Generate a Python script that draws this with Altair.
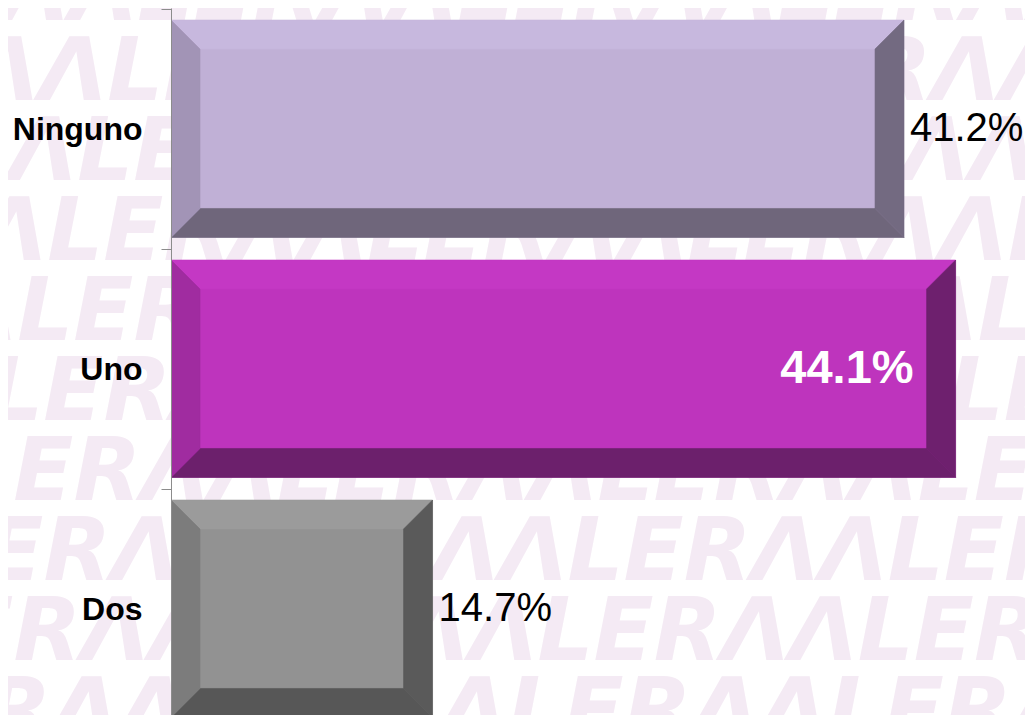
import json
import altair as alt
import pandas as pd

# ---------------- data ----------------
categories = ["Ninguno", "Uno", "Dos"]
values = [41.2, 44.1, 14.7]
value_labels = ["41.2%", "44.1%", "14.7%"]

# bevel palette per bar (face, top, left, right, bottom)
face_colors = ["#C0B0D6", "#BE34BD", "#929292"]
top_colors = ["#C7B8DE", "#C438C4", "#9B9B9B"]
left_colors = ["#A294B6", "#A02CA0", "#7C7C7C"]
right_colors = ["#736A81", "#6E206E", "#5A5A5A"]
bottom_colors = ["#6F667B", "#6C206C", "#575757"]

# ---------------- geometry / layout ----------------
X_MAX = 48
W = 854
H = 707
BAND_PX = 240
PX_X = W / X_MAX
BEVEL = 29
bx = BEVEL / PX_X
by = BEVEL / BAND_PX
Y0 = -1 / BAND_PX
Y1 = Y0 + H / BAND_PX
TOP_PAD = 0.046
BOT_PAD = 0.048

x_scale = alt.Scale(domain=[0, X_MAX], nice=False, zero=False)
y_scale = alt.Scale(domain=[Y0, Y1], reverse=True, nice=False, zero=False)

label_expr = json.dumps(categories) + "[datum.value]"
y_axis = alt.Axis(
    values=list(range(len(categories))),
    labelExpr=label_expr,
    labelOffset=BAND_PX / 2,
    labelFont="Liberation Sans",
    labelFontWeight="bold",
    labelFontSize=32,
    labelColor="#000000",
    labelPadding=19,
    labelFlush=False,
    labelOverlap=False,
    tickSize=10,
    tickColor="#8C8C8C",
    domainColor="#8C8C8C",
    grid=False,
    title=None,
    zindex=1,
)


def X(f):
    return alt.X(f, type="quantitative", scale=x_scale, axis=None, stack=None)


def Y(f):
    return alt.Y(f, type="quantitative", scale=y_scale, axis=y_axis, stack=None)


rects, harea, varea, texts = [], [], [], []
for i, (cat, v) in enumerate(zip(categories, values)):
    yt = i + TOP_PAD
    yb = i + 1 - BOT_PAD
    rects.append(dict(cat=cat, x=0, x2=v, y=yt, y2=yb, color=face_colors[i], layer=0))
    rects.append(dict(cat=cat, x=bx, x2=v - bx, y=yt + by, y2=yb - by, color=face_colors[i], layer=1))
    harea += [
        dict(pid=f"{cat}-t", y=yt, x=0, x2=v, color=top_colors[i]),
        dict(pid=f"{cat}-t", y=yt + by, x=bx, x2=v - bx, color=top_colors[i]),
        dict(pid=f"{cat}-b", y=yb - by, x=bx, x2=v - bx, color=bottom_colors[i]),
        dict(pid=f"{cat}-b", y=yb, x=0, x2=v, color=bottom_colors[i]),
    ]
    varea += [
        dict(pid=f"{cat}-l", x=0, y=yt, y2=yb, color=left_colors[i]),
        dict(pid=f"{cat}-l", x=bx, y=yt + by, y2=yb - by, color=left_colors[i]),
        dict(pid=f"{cat}-r", x=v - bx, y=yt + by, y2=yb - by, color=right_colors[i]),
        dict(pid=f"{cat}-r", x=v, y=yt, y2=yb, color=right_colors[i]),
    ]
    texts.append(dict(cat=cat, x=v, y=i + 0.5, label=value_labels[i], inside=(v == max(values))))

rect_df = pd.DataFrame(rects)
harea_df = pd.DataFrame(harea)
varea_df = pd.DataFrame(varea)
text_df = pd.DataFrame(texts)

# ---------------- watermark rows ----------------
WM_PERIOD = 320
wm_rows = []
for k in range(-1, 9):
    base_page_y = 100 + 80 * k
    l_pos = 887 + (6 - k) * 30
    start = l_pos - 136
    while start > 0:
        start -= WM_PERIOD
    wm_rows.append(dict(
        x=(start - 171) / PX_X,
        y=(base_page_y - 8) / BAND_PX + Y0,
        t="ΛΛLER" * 6,
    ))
wm_df = pd.DataFrame(wm_rows)

watermark = alt.Chart(wm_df).mark_text(
    align="left", baseline="alphabetic", font="DejaVu Sans", fontWeight="bold",
    fontStyle="italic", fontSize=88, color="#F4EAF4",
).encode(x=X("x"), y=Y("y"), text="t:N")

underlay = alt.Chart(rect_df).transform_filter("datum.layer == 0").mark_rect(clip=True).encode(
    x=X("x"), x2="x2", y=Y("y"), y2="y2", fill=alt.Fill("color:N", scale=None)
)
face = alt.Chart(rect_df).transform_filter("datum.layer == 1").mark_rect(clip=True).encode(
    x=X("x"), x2="x2", y=Y("y"), y2="y2", fill=alt.Fill("color:N", scale=None)
)
h_bevels = alt.Chart(harea_df).mark_area(orient="horizontal", clip=True, strokeWidth=0.6).encode(
    y=Y("y"), x=X("x"), x2="x2", detail="pid:N",
    fill=alt.Fill("color:N", scale=None), stroke=alt.Stroke("color:N", scale=None),
)
v_bevels = alt.Chart(varea_df).mark_area(orient="vertical", clip=True, strokeWidth=0.6).encode(
    x=X("x"), y=Y("y"), y2="y2", detail="pid:N",
    fill=alt.Fill("color:N", scale=None), stroke=alt.Stroke("color:N", scale=None),
)
outside_text = alt.Chart(text_df).transform_filter("!datum.inside").mark_text(
    align="left", baseline="middle", dx=6, font="Liberation Sans", fontSize=40, color="#000000",
).encode(x=X("x"), y=Y("y"), text="label:N")
inside_text = alt.Chart(text_df).transform_filter("datum.inside").mark_text(
    align="right", baseline="middle", dx=-42, font="Liberation Sans", fontSize=47,
    fontWeight="bold", color="#FFFFFF",
).encode(x=X("x"), y=Y("y"), text="label:N")

chart = alt.layer(
    watermark, underlay, face, h_bevels, v_bevels, outside_text, inside_text
).properties(
    width=W, height=H,
    padding={"left": 163, "top": 0, "right": 0, "bottom": 0},
    autosize=alt.AutoSizeParams(type="none"),
    background="#FFFFFF",
).configure_view(stroke=None)

chart.save("out.html", embed_options={"renderer": "svg", "actions": False})
